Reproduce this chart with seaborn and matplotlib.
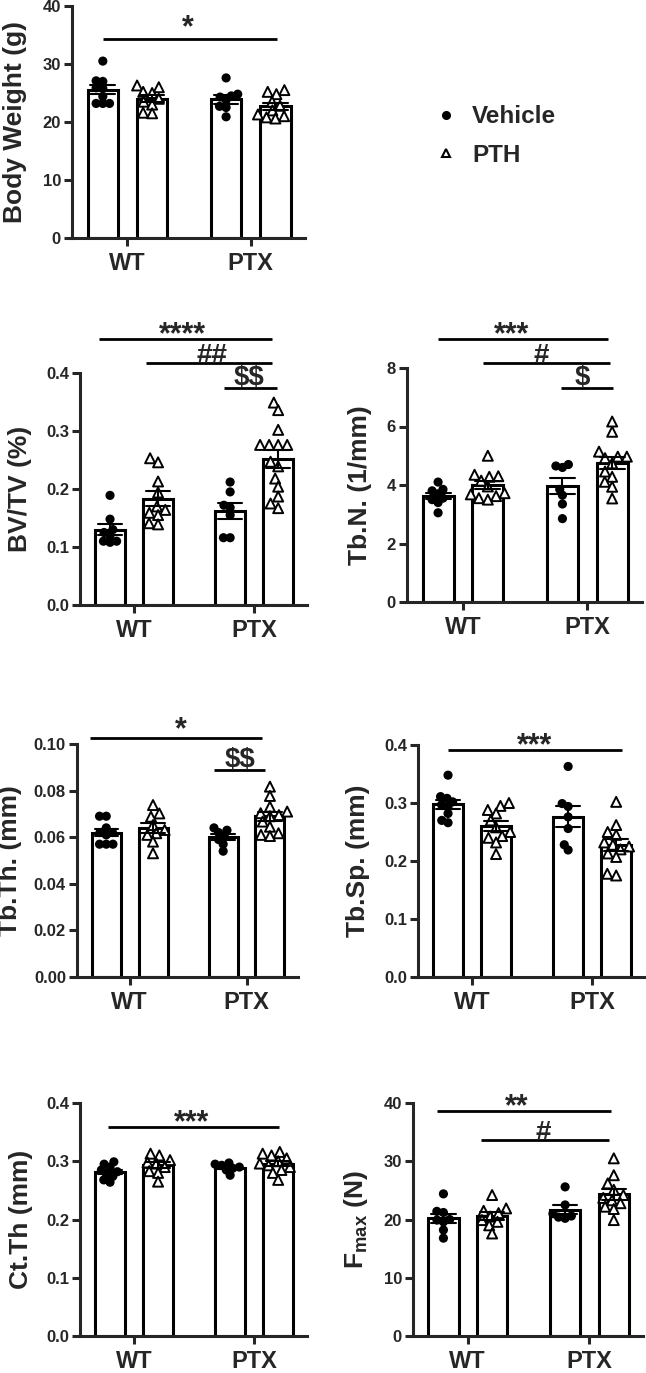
import numpy as np
import pandas as pd
import seaborn as sns
import matplotlib.pyplot as plt
from matplotlib.lines import Line2D

genotypes = ['WT', 'PTX']
treatments = ['Vehicle', 'PTH']

# Body weight (g)
bw_wt_veh = [30.5, 27.1, 27.0, 25.9, 25.8, 24.4, 23.2, 23.2, 23.2]
bw_wt_pth = [26.3, 26.0, 25.2, 25.0, 24.0, 23.5, 23.0, 21.6, 21.5]
bw_ptx_veh = [27.6, 24.8, 24.5, 24.3, 23.8, 22.7, 22.5, 20.9]
bw_ptx_pth = [25.5, 25.2, 24.8, 23.5, 22.8, 22.0, 21.3, 21.0, 20.8, 20.6]

# BV/TV (%)
bv_wt_veh = [0.189, 0.148, 0.130, 0.125, 0.120, 0.110, 0.108, 0.110]
bv_wt_pth = [0.253, 0.246, 0.213, 0.194, 0.170, 0.164, 0.159, 0.155, 0.141, 0.139]
bv_ptx_veh = [0.212, 0.195, 0.172, 0.168, 0.155, 0.116, 0.116]
bv_ptx_pth = [0.349, 0.336, 0.302, 0.276, 0.276, 0.276, 0.276, 0.247, 0.239, 0.218,
              0.204, 0.187, 0.175, 0.167]

# Tb.N. (1/mm)
tbn_wt_veh = [4.10, 3.85, 3.80, 3.70, 3.55, 3.50, 3.40, 3.05]
tbn_wt_pth = [5.00, 4.35, 4.30, 4.28, 4.15, 3.95, 3.72, 3.68, 3.62, 3.55, 3.50]
tbn_ptx_veh = [4.70, 4.65, 4.60, 3.85, 3.65, 3.35, 2.85]
tbn_ptx_pth = [6.17, 5.82, 5.14, 4.97, 4.97, 4.92, 4.74, 4.46, 4.28, 4.11, 3.94, 3.54]

# Tb.Th. (mm)
tbth_wt_veh = [0.069, 0.069, 0.064, 0.062, 0.062, 0.061, 0.057, 0.057, 0.057]
tbth_wt_pth = [0.0738, 0.0702, 0.0688, 0.0652, 0.0631, 0.0617, 0.0610, 0.0581, 0.0531]
tbth_ptx_veh = [0.064, 0.063, 0.062, 0.0605, 0.059, 0.057, 0.054]
tbth_ptx_pth = [0.0817, 0.0777, 0.0731, 0.0710, 0.0703, 0.0695, 0.0690, 0.0667,
                0.0645, 0.0617, 0.0610, 0.0605]

# Tb.Sp. (mm)
tbsp_wt_veh = [0.348, 0.311, 0.308, 0.302, 0.297, 0.294, 0.282, 0.270, 0.266]
tbsp_wt_pth = [0.300, 0.295, 0.288, 0.282, 0.270, 0.258, 0.250, 0.243, 0.240, 0.232, 0.212]
tbsp_ptx_veh = [0.363, 0.299, 0.294, 0.276, 0.256, 0.228, 0.219]
tbsp_ptx_pth = [0.302, 0.262, 0.250, 0.245, 0.232, 0.228, 0.225, 0.220, 0.213, 0.207,
                0.178, 0.175]

# Ct.Th (mm)
ctth_wt_veh = [0.299, 0.295, 0.290, 0.285, 0.282, 0.278, 0.274, 0.268, 0.264]
ctth_wt_pth = [0.313, 0.310, 0.302, 0.298, 0.296, 0.290, 0.283, 0.280, 0.265]
ctth_ptx_veh = [0.297, 0.295, 0.293, 0.290, 0.288, 0.285, 0.276]
ctth_ptx_pth = [0.316, 0.313, 0.310, 0.305, 0.300, 0.296, 0.293, 0.290, 0.285, 0.280, 0.268]

# Fmax (N)
fmax_wt_veh = [24.4, 21.4, 21.2, 20.0, 19.9, 19.6, 18.2, 16.8]
fmax_wt_pth = [24.2, 21.9, 21.5, 21.1, 20.5, 19.9, 19.6, 19.0, 17.6]
fmax_ptx_veh = [25.6, 22.5, 21.0, 20.6, 20.4, 20.2]
fmax_ptx_pth = [30.5, 27.6, 26.2, 25.1, 24.2, 23.7, 23.3, 22.8, 22.2, 21.8, 19.9]


def long_df(wt_veh, wt_pth, ptx_veh, ptx_pth):
    rows = []
    for g, t, vals in [('WT', 'Vehicle', wt_veh), ('WT', 'PTH', wt_pth),
                       ('PTX', 'Vehicle', ptx_veh), ('PTX', 'PTH', ptx_pth)]:
        rows += [{'genotype': g, 'treatment': t, 'value': v} for v in vals]
    return pd.DataFrame(rows)


sns.set_theme(style='ticks')
plt.rcParams['font.family'] = ['Liberation Sans', 'DejaVu Sans']
plt.rcParams['font.weight'] = 'bold'
plt.rcParams['axes.labelweight'] = 'bold'
plt.rcParams['mathtext.fontset'] = 'custom'
plt.rcParams['mathtext.rm'] = 'Liberation Sans:bold'
plt.rcParams['mathtext.bf'] = 'Liberation Sans:bold'
plt.rcParams['mathtext.it'] = 'Liberation Sans:bold'

W, H = 646, 1373
fig = plt.figure(figsize=(W / 100, H / 100), dpi=100)

# panel: data, pixel rect (left, top, right, bottom), y range, ticks, label, label x, significance
# significance: (x0, x1, y, text, text_x, text offset in points)
panels = [
    (long_df(bw_wt_veh, bw_wt_pth, bw_ptx_veh, bw_ptx_pth), (72, 6, 305, 238),
     (0, 40), [0, 10, 20, 30, 40], '{:.0f}', 'Body Weight (g)', -0.193,
     [(-0.2, 1.21, 34.3, '*', 0.49, 2)]),
    (long_df(bv_wt_veh, bv_wt_pth, bv_ptx_veh, bv_ptx_pth), (80, 373, 307, 605),
     (0, 0.4), [0, 0.1, 0.2, 0.3, 0.4], '{:.1f}', 'BV/TV (%)', -0.211,
     [(-0.29, 1.15, 0.459, '****', 0.40, -3), (0.10, 1.15, 0.417, '##', 0.645, 0),
      (0.75, 1.19, 0.374, '$$', 0.96, 2)]),
    (long_df(tbn_wt_veh, tbn_wt_pth, tbn_ptx_veh, tbn_ptx_pth), (407, 368, 642, 602),
     (0, 8), [0, 2, 4, 6, 8], '{:.0f}', 'Tb.N. (1/mm)', -0.149,
     [(-0.20, 1.17, 8.99, '***', 0.39, -3), (0.16, 1.18, 8.17, '#', 0.63, 0),
      (0.79, 1.21, 7.32, '$', 0.96, 2)]),
    (long_df(tbth_wt_veh, tbth_wt_pth, tbth_ptx_veh, tbth_ptx_pth), (77, 744, 298, 977),
     (0, 0.1), [0, 0.02, 0.04, 0.06, 0.08, 0.10], '{:.2f}', 'Tb.Th. (mm)', -0.249,
     [(-0.34, 1.13, 0.1026, '*', 0.44, 0), (0.72, 1.16, 0.0888, '$$', 0.94, 2)]),
    (long_df(tbsp_wt_veh, tbsp_wt_pth, tbsp_ptx_veh, tbsp_ptx_pth), (418, 745, 645, 977),
     (0, 0.4), [0, 0.1, 0.2, 0.3, 0.4], '{:.1f}', 'Tb.Sp. (mm)', -0.211,
     [(-0.20, 1.245, 0.391, '***', 0.52, -3)]),
    (long_df(ctth_wt_veh, ctth_wt_pth, ctth_ptx_veh, ctth_ptx_pth), (80, 1103, 307, 1336),
     (0, 0.4), [0, 0.1, 0.2, 0.3, 0.4], '{:.1f}', 'Ct.Th (mm)', -0.207,
     [(-0.22, 1.21, 0.359, '***', 0.48, -3)]),
    (long_df(fmax_wt_veh, fmax_wt_pth, fmax_ptx_veh, fmax_ptx_pth), (413, 1103, 643, 1336),
     (0, 40), [0, 10, 20, 30, 40], '{:.0f}', r'F$_{\rm max}$ (N)', -0.187,
     [(-0.25, 1.18, 38.6, '**', 0.40, -3), (0.11, 1.16, 33.6, '#', 0.62, 0)]),
]

LW = 2.2
swarms = []  # (collection, shown marker size)
for df, (l, t, r, b), ylim, yticks, fmt, ylabel, labx, sigs in panels:
    ax = fig.add_axes([l / W, 1 - b / H, (r - l) / W, (b - t) / H])
    sns.barplot(data=df, x='genotype', y='value', hue='treatment',
                order=genotypes, hue_order=treatments,
                palette={'Vehicle': 'white', 'PTH': 'white'},
                edgecolor='black', linewidth=LW, errorbar='se', capsize=0.4,
                err_kws={'linewidth': 1.5, 'color': 'black'},
                gap=0.38, legend=False, ax=ax)
    for ln in ax.lines:
        ln.set_zorder(6)
    # swarm is laid out with smaller markers so the dots pack tighter, then enlarged
    n0 = len(ax.collections)
    sns.swarmplot(data=df[df['treatment'] == 'Vehicle'], x='genotype', y='value',
                  hue='treatment', order=genotypes, hue_order=treatments, dodge=True,
                  palette={'Vehicle': 'black', 'PTH': 'black'}, marker='o', size=4.6,
                  linewidth=0, legend=False, ax=ax)
    swarms += [(c, 6.6) for c in ax.collections[n0:]]
    n0 = len(ax.collections)
    sns.swarmplot(data=df[df['treatment'] == 'PTH'], x='genotype', y='value',
                  hue='treatment', order=genotypes, hue_order=treatments, dodge=True,
                  palette={'Vehicle': 'white', 'PTH': 'white'}, marker='^', size=4.8,
                  edgecolor='black', linewidth=1.4, legend=False, ax=ax)
    swarms += [(c, 7.2) for c in ax.collections[n0:]]

    ax.set_xlim(-0.45, 1.44)
    ax.set_ylim(*ylim)
    ax.set_yticks(yticks)
    ax.set_yticklabels([fmt.format(v) for v in yticks])
    ax.set_xlabel('')
    ax.set_ylabel(ylabel, fontsize=19, fontweight='bold')
    ax.yaxis.set_label_coords(labx, 0.5)
    sns.despine(ax=ax)
    for side in ['left', 'bottom']:
        ax.spines[side].set_linewidth(LW)
    ax.tick_params(axis='y', labelsize=12, width=LW, length=6, pad=2)
    ax.tick_params(axis='x', labelsize=17, width=LW, length=6, pad=4)
    for lab in ax.get_xticklabels() + ax.get_yticklabels():
        lab.set_fontweight('bold')

    for x0, x1, y, txt, tx, dy in sigs:
        ax.plot([x0, x1], [y, y], color='black', lw=2.0, clip_on=False,
                solid_capstyle='butt')
        fs = 22 if txt.startswith('*') else 20
        ax.annotate(txt, (tx, y), xytext=(0, dy), textcoords='offset points',
                    ha='center', va='baseline', fontsize=fs, fontweight='bold',
                    annotation_clip=False, parse_math=False)

# fix the swarm layout, then show the markers at full size
fig.canvas.draw()
for col, ms in swarms:
    if 'draw' in col.__dict__:
        del col.draw
    col.set_sizes([ms ** 2])

handles = [Line2D([], [], marker='o', color='black', linestyle='None', markersize=5.5),
           Line2D([], [], marker='^', markerfacecolor='white', markeredgecolor='black',
                  markeredgewidth=1.5, linestyle='None', markersize=6)]
fig.legend(handles, treatments, loc='center left', bbox_to_anchor=(434 / W, 1 - 136 / H),
           frameon=False, handlelength=1.0, handletextpad=0.56,
           labelspacing=0.62, borderpad=0, borderaxespad=0,
           prop={'weight': 'bold', 'size': 17.5})

fig.savefig('out.png', dpi=100)
